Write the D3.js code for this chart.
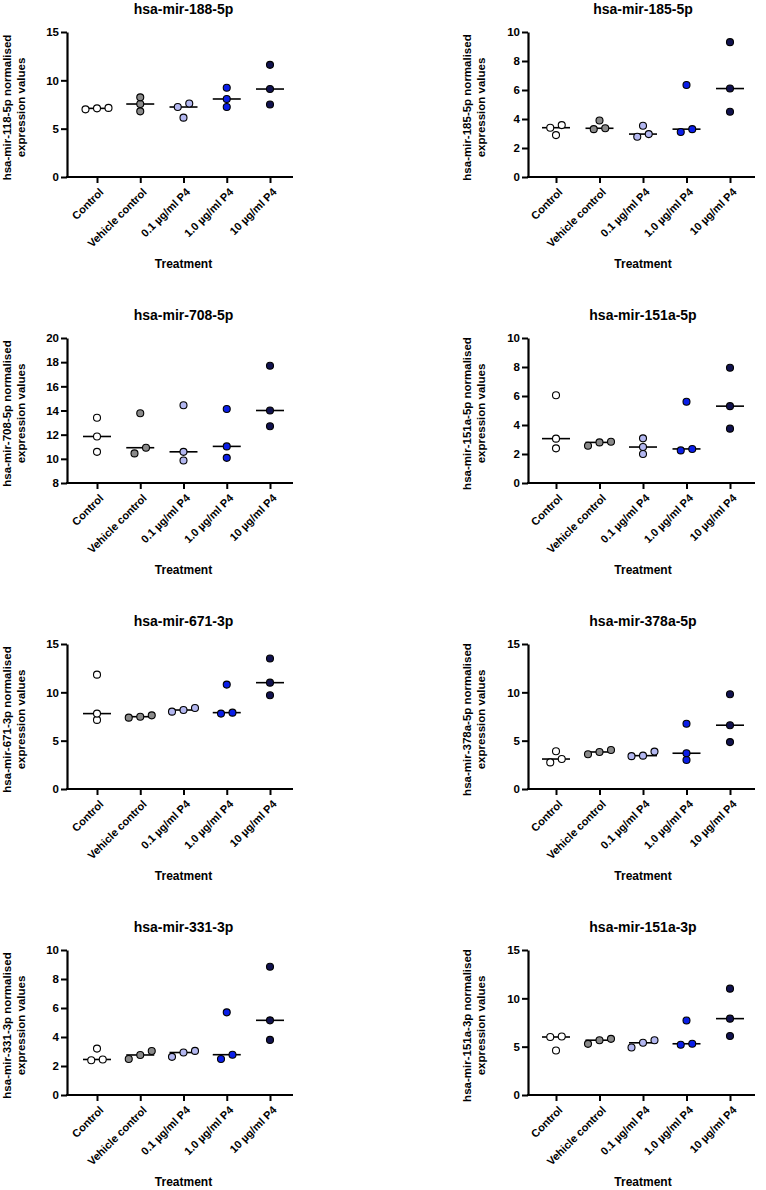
<!DOCTYPE html>
<html><head><meta charset="utf-8">
<script src="https://cdn.jsdelivr.net/npm/d3@7"></script>
<style>
html,body{margin:0;padding:0;background:#fff;}
text{font-family:"Liberation Sans",Arial,Helvetica,sans-serif;font-weight:bold;fill:#000;}
</style></head>
<body>
<svg id="chart" width="766" height="1190"></svg>
<script>
// ---------- data ----------
const categories = ["Control", "Vehicle control", "0.1 \u00b5g/ml P4", "1.0 \u00b5g/ml P4", "10 \u00b5g/ml P4"];
const groupColors = ["#ffffff", "#8a8a8a", "#b3b7f0", "#0a1ee8", "#11124f"];

const titles = ["hsa-mir-188-5p", "hsa-mir-185-5p", "hsa-mir-708-5p", "hsa-mir-151a-5p",
                "hsa-mir-671-3p", "hsa-mir-378a-5p", "hsa-mir-331-3p", "hsa-mir-151a-3p"];
const yLabels = ["hsa-mir-118-5p normalised", "hsa-mir-185-5p normalised", "hsa-mir-708-5p normalised",
                 "hsa-mir-151a-5p normalised", "hsa-mir-671-3p normalised", "hsa-mir-378a-5p normalised",
                 "hsa-mir-331-3p normalised", "hsa-mir-151a-3p normalised"];
const yLabel2 = "expression values";
const xTitle = "Treatment";

const yDomains = [[0,15],[0,10],[8,20],[0,10],[0,15],[0,15],[0,10],[0,15]];
const yTicks = [[0,5,10,15],[0,2,4,6,8,10],[8,10,12,14,16,18,20],[0,2,4,6,8,10],
                [0,5,10,15],[0,5,10,15],[0,2,4,6,8,10],[0,5,10,15]];

const mir188_5p  = [[7.0,7.1,7.15],[8.24,7.55,6.79],[7.24,7.6,6.14],[9.24,8.07,7.24],[11.6,9.1,7.5]];
const mir185_5p  = [[3.4,3.58,2.89],[3.3,3.36,3.9],[2.78,2.96,3.53],[3.1,3.3,6.35],[9.3,6.1,4.5]];
const mir708_5p  = [[13.4,11.85,10.58],[13.77,10.45,10.92],[14.43,10.58,9.86],[14.12,11.03,10.08],[17.7,14.0,12.7]];
const mir151a_5p = [[6.05,3.06,2.39],[2.57,2.8,2.85],[3.08,2.48,2.0],[2.25,2.35,5.6],[7.95,5.3,3.75]];
const mir671_3p  = [[11.83,7.8,7.15],[7.38,7.62,7.48],[8.0,8.38,8.17],[7.8,7.9,10.8],[13.5,11.0,9.7]];
const mir378a_5p = [[2.75,3.9,3.1],[3.59,4.04,3.83],[3.4,3.87,3.45],[3.0,3.7,6.75],[9.8,6.6,4.85]];
const mir331_3p  = [[3.2,2.4,2.45],[3.03,2.48,2.76],[2.63,3.04,2.93],[5.7,2.48,2.78],[8.85,5.15,3.8]];
const mir151a_3p = [[6.05,6.0,4.6],[5.29,5.81,5.67],[5.67,4.91,5.4],[7.7,5.2,5.3],[11.0,7.9,6.1]];
const panelValues = [mir188_5p, mir185_5p, mir708_5p, mir151a_5p, mir671_3p, mir378a_5p, mir331_3p, mir151a_3p];

// ---------- layout ----------
const colLayout = [
  {axisX: 67,  first: 97,  last: 270, end: 293, lab1: 7.5, lab2: 22},
  {axisX: 528, first: 556, last: 730, end: 755, lab1: 468, lab2: 482}
];
const rowTop0 = 32, rowPitch = 306, plotH = 145;
const dotR = 3.5, rowGap = 6.2, sideStep = 11.5, medianHalf = 14;
const FONT = "'Liberation Sans',Arial,Helvetica,sans-serif";

const svg = d3.select("#chart");

panelValues.forEach((vals, i) => {
  const col = colLayout[i % 2];
  const top = rowTop0 + Math.floor(i / 2) * rowPitch;
  const bottom = top + plotH;
  const g = svg.append("g");

  const x = d3.scalePoint().domain(categories).range([col.first, col.last]);
  const y = d3.scaleLinear().domain(yDomains[i]).range([bottom, top]);

  // title
  g.append("text").attr("x", x(categories[2])).attr("y", top - 22)
    .attr("text-anchor", "middle").attr("dominant-baseline", "middle")
    .style("font-size", "14px").text(titles[i]);

  // y axis
  const ya = g.append("g").attr("transform", `translate(${col.axisX},0)`)
    .call(d3.axisLeft(y).tickValues(yTicks[i]).tickSize(6).tickSizeOuter(0).tickFormat(d3.format("d")));
  ya.select(".domain").attr("stroke", "#000").attr("stroke-width", 2.2);
  ya.selectAll(".tick line").attr("stroke", "#000").attr("stroke-width", 2);
  ya.selectAll(".tick text").attr("x", -8).style("font-size", "11.5px")
    .style("font-family", FONT).style("font-weight", "bold").attr("fill", "#000");

  // x axis
  g.append("line").attr("x1", col.axisX - 1).attr("x2", col.end)
    .attr("y1", bottom).attr("y2", bottom).attr("stroke", "#000").attr("stroke-width", 2.2);
  const xa = g.append("g").attr("transform", `translate(0,${bottom})`)
    .call(d3.axisBottom(x).tickSize(6).tickSizeOuter(0));
  xa.select(".domain").remove();
  xa.selectAll(".tick line").attr("stroke", "#000").attr("stroke-width", 2);
  xa.selectAll(".tick text")
    .attr("text-anchor", "end").attr("x", 0).attr("y", 0).attr("dy", "0.35em")
    .attr("transform", "translate(4,13) rotate(-45)")
    .style("font-size", "11px")
    .style("font-family", FONT).style("font-weight", "bold").attr("fill", "#000");

  // x title
  g.append("text").attr("x", x(categories[2])).attr("y", bottom + 88)
    .attr("text-anchor", "middle").attr("dominant-baseline", "middle")
    .style("font-size", "12px").text(xTitle);

  // y title
  const cy = (top + bottom) / 2 + 3;
  g.append("text").attr("transform", `translate(${col.lab1},${cy}) rotate(-90)`)
    .attr("text-anchor", "middle").attr("dominant-baseline", "middle")
    .style("font-size", "11.5px").text(yLabels[i]);
  g.append("text").attr("transform", `translate(${col.lab2},${cy}) rotate(-90)`)
    .attr("text-anchor", "middle").attr("dominant-baseline", "middle")
    .style("font-size", "11.5px").text(yLabel2);

  // groups
  vals.forEach((arr, gi) => {
    const cx = x(categories[gi]);
    const med = d3.median(arr);
    g.append("line").attr("x1", cx - medianHalf).attr("x2", cx + medianHalf)
      .attr("y1", y(med)).attr("y2", y(med)).attr("stroke", "#000").attr("stroke-width", 1.6);

    // scatter layout: chain close points into horizontal rows
    const pts = arr.map(v => ({v, py: y(v)})).sort((a, b) => a.v - b.v);
    const rows = [];
    pts.forEach(p => {
      const last = rows[rows.length - 1];
      if (last && Math.abs(last[last.length - 1].py - p.py) < rowGap) last.push(p);
      else rows.push([p]);
    });
    rows.forEach(r => r.forEach((p, k) => { p.px = cx + (k - (r.length - 1) / 2) * sideStep; }));

    g.selectAll(null).data(pts).enter().append("circle")
      .attr("cx", d => d.px).attr("cy", d => d.py).attr("r", dotR)
      .attr("fill", groupColors[gi]).attr("stroke", "#000").attr("stroke-width", 1.1);
  });
});
</script>
</body></html>
